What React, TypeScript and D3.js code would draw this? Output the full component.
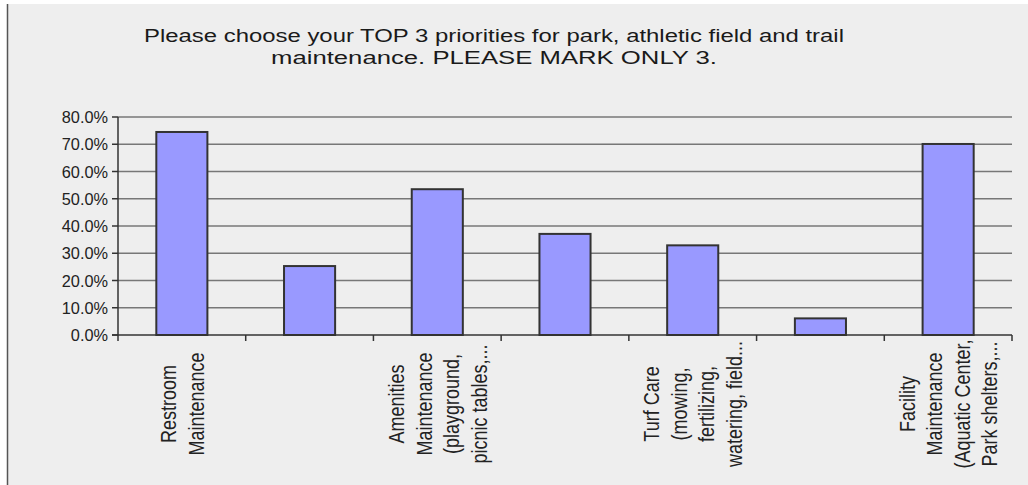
import React, { useEffect, useRef } from 'react';
import * as d3 from 'd3';

// Survey answers, one entry per bar
const categoryLines: string[][] = [
  ['Restroom', 'Maintenance'],
  [],
  ['Amenities', 'Maintenance', '(playground,', 'picnic tables,...'],
  [],
  ['Turf Care', '(mowing,', 'fertilizing,', 'watering, field...'],
  [],
  ['Facility', 'Maintenance', '(Aquatic Center,', 'Park shelters,...'],
];
const values = [0.745, 0.253, 0.535, 0.371, 0.329, 0.061, 0.701];
const yTicks = [0, 0.1, 0.2, 0.3, 0.4, 0.5, 0.6, 0.7, 0.8];
const titleLines = [
  'Please choose your TOP 3 priorities for park, athletic field and trail',
  'maintenance. PLEASE MARK ONLY 3.',
];

const W = 1028;
const H = 485;
const FONT = '"Liberation Sans", Arial, sans-serif';

const App: React.FC = () => {
  const svgRef = useRef<SVGSVGElement>(null);

  useEffect(() => {
    if (!svgRef.current) return;
    const svg = d3.select(svgRef.current);
    svg.selectAll('*').remove();

    const left = 118;
    const right = 1012;
    const top = 117;
    const bottom = 335;

    const x = d3.scaleBand<number>()
      .domain(values.map((_, i) => i))
      .range([left, right])
      .paddingInner(0.6)
      .paddingOuter(0.3);
    const bandStart = (i: number) => left + i * (right - left) / values.length;

    const y = d3.scaleLinear().domain([0, 0.8]).range([bottom, top]);

    // background
    svg.append('rect').attr('width', W).attr('height', H).attr('fill', '#ffffff');
    svg.append('rect').attr('x', 7).attr('y', 4).attr('width', W - 7).attr('height', H - 4).attr('fill', '#eeeeee');
    svg.append('line')
      .attr('x1', 7.5).attr('x2', 7.5).attr('y1', 4).attr('y2', H)
      .attr('stroke', '#555').attr('stroke-width', 1.5);

    // title
    const title = svg.append('g').attr('font-family', FONT).attr('fill', '#1a1a1a');
    const titleLens = [700, 446];
    titleLines.forEach((t, i) => {
      title.append('text')
        .attr('x', 494)
        .attr('y', 41.5 + i * 22.5)
        .attr('text-anchor', 'middle')
        .attr('font-size', 17.5)
        .attr('textLength', titleLens[i])
        .attr('lengthAdjust', 'spacingAndGlyphs')
        .text(t);
    });

    // gridlines
    svg.append('g')
      .selectAll('line')
      .data(yTicks.filter(d => d > 0))
      .join('line')
      .attr('x1', left).attr('x2', right)
      .attr('y1', d => y(d)).attr('y2', d => y(d))
      .attr('stroke', '#777').attr('stroke-width', 1.5);

    // bars
    svg.append('g')
      .selectAll('rect')
      .data(values)
      .join('rect')
      .attr('x', (_, i) => x(i)!)
      .attr('y', d => y(d))
      .attr('width', x.bandwidth())
      .attr('height', d => bottom - y(d))
      .attr('fill', '#9999ff')
      .attr('stroke', '#333')
      .attr('stroke-width', 2);

    // axes
    const axes = svg.append('g').attr('stroke', '#333').attr('stroke-width', 1.5);
    axes.append('line').attr('x1', left).attr('x2', left).attr('y1', top).attr('y2', bottom);
    axes.append('line').attr('x1', left - 6).attr('x2', right).attr('y1', bottom).attr('y2', bottom);
    axes.selectAll('.yt')
      .data(yTicks)
      .join('line')
      .attr('class', 'yt')
      .attr('x1', left - 6).attr('x2', left)
      .attr('y1', d => y(d)).attr('y2', d => y(d));
    axes.selectAll('.xt')
      .data(d3.range(values.length + 1))
      .join('line')
      .attr('class', 'xt')
      .attr('x1', d => bandStart(d)).attr('x2', d => bandStart(d))
      .attr('y1', bottom).attr('y2', bottom + 6);

    // y tick labels
    svg.append('g')
      .selectAll('text')
      .data(yTicks)
      .join('text')
      .attr('transform', d => `translate(108,${y(d) + 6}) scale(1.02,1)`)
      .attr('text-anchor', 'end')
      .attr('font-family', FONT)
      .attr('font-size', 16)
      .attr('fill', '#222')
      .text(d => d3.format('.1%')(d));

    // category labels, rotated
    const lh = 27.5;
    const capH = 16;
    const labels = svg.append('g').attr('font-family', FONT).attr('font-size', 18).attr('fill', '#222');
    categoryLines.forEach((lines, i) => {
      if (!lines.length) return;
      const cx = x(i)! + x.bandwidth() / 2;
      const b0 = cx - ((lines.length - 1) * lh - capH) / 2;
      lines.forEach((ln, j) => {
        labels.append('text')
          .attr('transform', `translate(${b0 + j * lh},404) rotate(-90) scale(1,1.25)`)
          .attr('text-anchor', 'middle')
          .text(ln);
      });
    });
  }, []);

  return (
    <svg
      ref={svgRef}
      width={W}
      height={H}
      style={{ position: 'absolute', left: 0, top: 0, display: 'block' }}
    />
  );
};

export default App;
